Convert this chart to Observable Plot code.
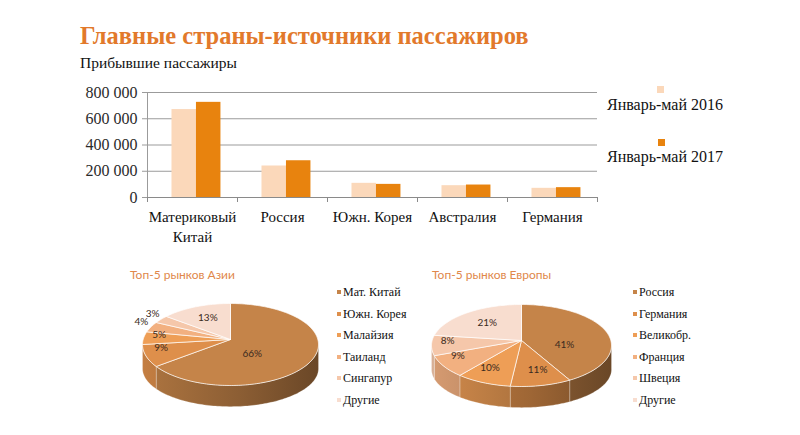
<!DOCTYPE html>
<html><head><meta charset="utf-8">
<script src="https://cdn.jsdelivr.net/npm/d3@7"></script>
<script src="https://cdn.jsdelivr.net/npm/@observablehq/plot@0.6"></script>
<style>
html,body{margin:0;padding:0;background:#fff}
#root{position:relative;width:800px;height:435px;overflow:hidden;font-family:"Liberation Serif",serif;color:#111}
.abs{position:absolute;white-space:nowrap;line-height:1}
.sq{position:absolute;width:7px;height:7px}
.psq{position:absolute;width:4px;height:4px}
</style></head>
<body><div id="root">
<div class="abs" id="title" style="left:80px;top:24px;font-size:24.5px;font-weight:bold;color:#E2792B">Главные страны-источники пассажиров</div>
<div class="abs" style="left:80px;top:55px;font-size:15.5px">Прибывшие пассажиры</div>
<div id="bars" class="abs" style="left:60px;top:80px"></div>
<div id="legend"></div>
<div class="abs" style="left:130px;top:269px;font-family:Lato,sans-serif;font-size:12px;color:#E0874A">Топ-5 рынков Азии</div>
<div class="abs" style="left:432px;top:269px;font-family:Lato,sans-serif;font-size:12px;color:#E0874A">Топ-5 рынков Европы</div>
<div id="pieA" class="abs" style="left:130px;top:288px"></div>
<div id="pieE" class="abs" style="left:421px;top:288px"></div>
<svg width="0" height="0" style="position:absolute"><defs id="defs"></defs></svg>
</div>
<script>
// ---- data ----
const countries = ["Материковый\nКитай", "Россия", "Южн. Корея", "Австралия", "Германия"];
const values2016 = [670000, 240000, 108000, 90000, 70000];
const values2017 = [725000, 280000, 100000, 95000, 75000];
const yTicks = [0, 200000, 400000, 600000, 800000];
const seriesNames = ["Январь-май 2016", "Январь-май 2017"];
const seriesColors = ["#FBD8BA", "#E8830E"];

const asiaNames = ["Мат. Китай", "Южн. Корея", "Малайзия", "Таиланд", "Сингапур", "Другие"];
const asiaValues = [66, 9, 5, 4, 3, 13];
const europeNames = ["Россия", "Германия", "Великобр.", "Франция", "Швеция", "Другие"];
const europeValues = [41, 11, 10, 9, 8, 21];
const sliceColors = ["#C58449", "#DE8F4B", "#EE9E56", "#F2B080", "#F5C7AA", "#F8DDCF"];

// ---- bar chart ----
const barData = countries.flatMap((c, i) => [
  {i, s: 0, v: values2016[i]},
  {i, s: 1, v: values2017[i]}
]);
const off = 0.272, bw = 0.272;
const fmt = d => d3.format(",")(d).replace(/,/g, " ");
const bars = Plot.plot({
  width: 545, height: 170,
  marginLeft: 87, marginRight: 8, marginTop: 12, marginBottom: 53,
  style: {fontFamily: "Liberation Serif, serif", fontSize: "15px", color: "#111", background: "transparent"},
  x: {domain: [0, 5]},
  y: {domain: [0, 800000]},
  color: {type: "identity"},
  marks: [
    Plot.gridY(yTicks, {stroke: "#9b9b9b", strokeOpacity: 1}),
    Plot.axisY(yTicks, {tickSize: 5, tickPadding: 5, tickFormat: fmt, label: null, stroke: "#9b9b9b", fontSize: 16, fill: "#2a2a2a"}),
    Plot.ruleX([0], {y1: 0, y2: 800000, stroke: "#9b9b9b"}),
    Plot.rectY(barData, {x1: d => d.i + off + d.s * bw, x2: d => d.i + off + (d.s + 1) * bw, y1: 0, y2: "v", fill: d => seriesColors[d.s]}),
    Plot.ruleY([0], {stroke: "#8a8a8a"}),
    Plot.axisX(d3.range(6), {tickSize: 5, tickFormat: () => "", stroke: "#8a8a8a", label: null}),
    Plot.text(countries, {x: (d, i) => i + 0.5, y: 0, text: d => d, dy: 10, lineAnchor: "top", lineHeight: 1.33, fill: "#111"})
  ]
});
document.getElementById("bars").append(bars);

// legend for bars
const leg = d3.select("#legend");
const legPos = [{sx: 657, sy: 86, tx: 607, ty: 97}, {sx: 658, sy: 139, tx: 607, ty: 149}];
seriesNames.forEach((n, k) => {
  leg.append("div").attr("class", "sq").style("left", legPos[k].sx + "px").style("top", legPos[k].sy + "px").style("background", seriesColors[k]);
  leg.append("div").attr("class", "abs").style("left", legPos[k].tx + "px").style("top", legPos[k].ty + "px").style("font-size", "16px").text(n);
});

// ---- 3D pies ----
const defs = d3.select("#defs");
function pie(el, id, values, names, o) {
  const {W, H, cx, cy, rx, ry, depth, kB, vOffPx, legX, legY0, legStep} = o;
  const dU = depth / ry, vOff = vOffPx / ry;
  const total = d3.sum(values);
  let acc = 0;
  const slices = values.map((v, i) => {
    const a = acc / total * 2 * Math.PI; acc += v;
    const b = acc / total * 2 * Math.PI;
    return {i, v, a, b, name: names[i], color: sliceColors[i]};
  });
  slices.forEach(s => {
    const g = defs.append("linearGradient").attr("id", `${id}g${s.i}`)
      .attr("gradientUnits", "userSpaceOnUse").attr("x1", cx - rx).attr("x2", cx + rx).attr("y1", 0).attr("y2", 0);
    g.append("stop").attr("offset", "0%").attr("stop-color", d3.color(s.color).darker(0.35).formatHex());
    g.append("stop").attr("offset", "55%").attr("stop-color", d3.color(s.color).darker(0.95).formatHex());
    g.append("stop").attr("offset", "100%").attr("stop-color", d3.color(s.color).darker(1.75).formatHex());
  });
  const arc = (a, b, f) => {
    const n = Math.max(2, Math.ceil((b - a) / (2 * Math.PI) * 240));
    return d3.range(n + 1).map(k => f(a + (b - a) * k / n));
  };
  const top = slices.flatMap(s => [
    {id: s.i, x: 0, y: vOff, fill: s.color},
    ...arc(s.a, s.b, t => ({id: s.i, x: Math.sin(t), y: Math.cos(t), fill: s.color})),
    {id: s.i, x: 0, y: vOff, fill: s.color}
  ]);
  const side = slices.flatMap(s => {
    const a = Math.max(s.a, Math.PI / 2), b = Math.min(s.b, 3 * Math.PI / 2);
    if (a >= b) return [];
    const upper = arc(a, b, t => ({x: Math.sin(t), y: Math.cos(t)}));
    const lower = arc(a, b, t => ({x: Math.sin(t), y: kB * Math.cos(t) - dU})).reverse();
    return [...upper, ...lower, upper[0]].map(p => ({...p, id: s.i, fill: `url(#${id}g${s.i})`}));
  });
  const labels = slices.map(s => {
    const m = (s.a + s.b) / 2, phi = (s.b - s.a) / 2;
    const r = s.v >= 13 ? 2 * Math.sin(phi) / (3 * phi) : (s.v <= 4 ? 1.12 : 0.82);
    return {x: r * Math.sin(m), y: vOff + r * Math.cos(m) * 0.9 - (s.v > 40 ? 0.22 : 0), t: s.v + "%"};
  });
  const p = Plot.plot({
    width: W, height: H, margin: 0,
    style: {background: "transparent"},
    x: {domain: [-cx / rx, (W - cx) / rx], range: [0, W], axis: null},
    y: {domain: [-(H - cy) / ry, cy / ry], range: [H, 0], axis: null},
    color: {type: "identity"},
    marks: [
      Plot.line(side, {x: "x", y: "y", z: "id", fill: "fill", stroke: "#ffffff", strokeOpacity: 0.35, strokeWidth: 0.7}),
      Plot.line(top, {x: "x", y: "y", z: "id", fill: "fill", stroke: "#ffffff", strokeOpacity: 0.85, strokeWidth: 0.8}),
      Plot.text(labels, {x: "x", y: "y", text: "t", fontSize: 10, fontFamily: "Lato, sans-serif", fill: "#3a2a20"})
    ]
  });
  el.append(p);
  // legend
  const L = d3.select("#root");
  slices.forEach((s, k) => {
    const yc = legY0 + k * legStep;
    L.append("div").attr("class", "psq").style("left", legX + "px").style("top", (yc - 2) + "px").style("background", s.color);
    L.append("div").attr("class", "abs").style("left", (legX + 6) + "px").style("top", (yc - 6) + "px").style("font-size", "12px").text(s.name);
  });
}
pie(document.getElementById("pieA"), "A", asiaValues, asiaNames,
  {W: 200, H: 125, cx: 100, cy: 56, rx: 88, ry: 41, depth: 24, kB: 0.93, vOffPx: 5, legX: 337, legY0: 292, legStep: 21.6});
pie(document.getElementById("pieE"), "E", europeValues, europeNames,
  {W: 200, H: 125, cx: 100, cy: 57, rx: 90, ry: 41, depth: 24, kB: 0.93, vOffPx: 5, legX: 633, legY0: 292, legStep: 21.6});
</script>
</body></html>
